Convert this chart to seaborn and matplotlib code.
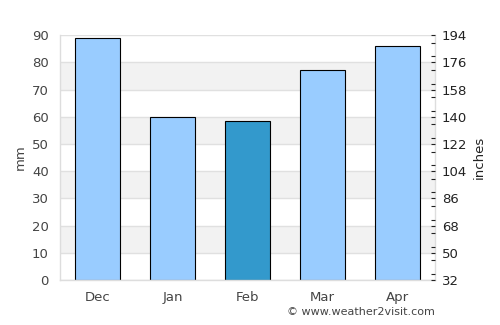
import matplotlib
matplotlib.use("Agg")
import matplotlib.pyplot as plt
import seaborn as sns
import pandas as pd
from matplotlib.ticker import MultipleLocator

months = ["Dec", "Jan", "Feb", "Mar", "Apr"]
rain_mm = [89, 60, 58.3, 77, 86]
highlight = "Feb"
left_ticks = [0, 10, 20, 30, 40, 50, 60, 70, 80, 90]
right_ticks = [32, 50, 68, 86, 104, 122, 140, 158, 176, 194]

sns.set_theme(style="white")
plt.rcParams['font.family'] = ['DejaVu Sans']

df = pd.DataFrame({"month": months, "mm": rain_mm})
palette = {m: ("#3399cc" if m == highlight else "#99ccff") for m in months}

fig = plt.figure(figsize=(5, 3.25), dpi=100)
ax = fig.add_axes([0.12, 0.138, 0.75, 0.754])

# alternating bands
for lo in range(10, 90, 20):
    ax.axhspan(lo, lo + 10, color="#f2f2f2", zorder=0, lw=0)
for t in left_ticks:
    ax.axhline(t, color="#e0e0e0", lw=1, zorder=0.5)

sns.barplot(data=df, x="month", y="mm", hue="month", palette=palette,
            width=0.6, edgecolor="black", linewidth=0.8, legend=False,
            saturation=1, ax=ax, zorder=2)
ax.set_xlim(-0.5, 4.5)
ax.set_ylim(0, 90)
ax.set_yticks(left_ticks)
ax.set_xlabel("")
ax.set_ylabel("mm", color="#444444", fontsize=9.5)
ax.tick_params(axis="both", colors="#444444", labelsize=9.5, length=0)
ax.tick_params(axis="x", pad=8)
ax.tick_params(axis="y", pad=8)
for s in ax.spines.values():
    s.set_color("#dddddd")
    s.set_linewidth(1)
ax.spines["top"].set_visible(False)

ax2 = ax.twinx()
ax2.set_ylim(32, 194)
ax2.set_yticks(right_ticks)
ax2.yaxis.set_minor_locator(MultipleLocator(9))
ax2.tick_params(axis="y", which="major", direction="in", length=3, width=0.8,
                colors="#222222", labelcolor="#222222", labelsize=9.5, pad=5)
ax2.tick_params(axis="y", which="minor", direction="in", length=3, width=0.8,
                colors="#222222")
ax2.set_ylabel("inches", color="#222222", fontsize=9.5)
for s in ax2.spines.values():
    s.set_visible(False)

fig.text(0.87, 0.025, "© www.weather2visit.com", ha="right", va="bottom",
         fontsize=8, color="#444444")

fig.savefig("out.png", dpi=100)
